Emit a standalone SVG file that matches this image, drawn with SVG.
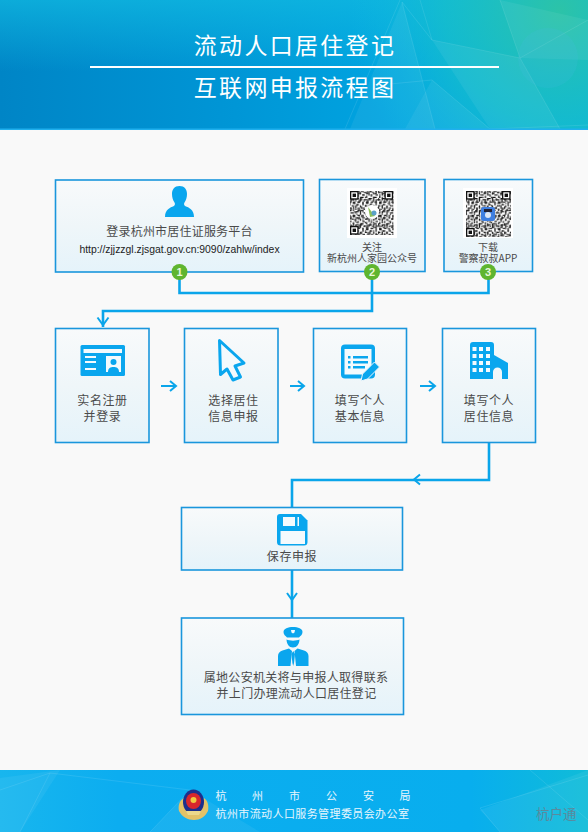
<svg xmlns="http://www.w3.org/2000/svg" width="588" height="832" viewBox="0 0 588 832">
<style>
.box{fill:url(#boxg);stroke:#1a96dc;stroke-width:1.6}
.t{font-family:"Noto Sans CJK SC",sans-serif;font-size:12px;fill:#4a4a4a;text-anchor:middle;letter-spacing:.6px}
.q{font-family:"Noto Sans CJK SC",sans-serif;font-size:10px;fill:#4a4a4a;text-anchor:middle}
.h{font-family:"Noto Sans CJK SC",sans-serif;font-size:23px;fill:#fff;text-anchor:middle;letter-spacing:2.3px}
.f{font-family:"Noto Sans CJK SC",sans-serif;font-size:11px;fill:#e8f6fd;letter-spacing:.4px}
.c{fill:none;stroke:#0aa5ea;stroke-width:2.6}
.a{fill:none;stroke:#0aa5ea;stroke-width:2}
.ic{fill:#0aa6ee}
.w{fill:#f4fafd}
.n{font-family:"Liberation Sans",sans-serif;font-size:11px;font-weight:bold;fill:#e9f7dc;text-anchor:middle}
.p{fill:#fff;opacity:.06}
.l{fill:none;stroke:#fff;stroke-opacity:.14;stroke-width:.7}
</style>
<defs>
<linearGradient id="boxg" x1="0" y1="0" x2="0" y2="1"><stop offset="0" stop-color="#f8fafb"/><stop offset=".5" stop-color="#eff6f9"/><stop offset="1" stop-color="#e5f3fa"/></linearGradient>
<linearGradient id="hb" x1="0" y1="0" x2="1" y2="0"><stop offset="0" stop-color="#0085c6"/><stop offset=".4" stop-color="#0096d6"/><stop offset=".7" stop-color="#00a6e2"/><stop offset="1" stop-color="#0aaedf"/></linearGradient>
<linearGradient id="ht" x1="0" y1="0" x2="0" y2="1"><stop offset="0" stop-color="#10b8e0" stop-opacity=".75"/><stop offset=".55" stop-color="#10b8e0" stop-opacity="0"/></linearGradient>
<radialGradient id="hr" gradientUnits="userSpaceOnUse" cx="560" cy="10" r="210"><stop offset="0" stop-color="#2cc3a8"/><stop offset=".55" stop-color="#18c0c8" stop-opacity=".7"/><stop offset="1" stop-color="#10b8e0" stop-opacity="0"/></radialGradient>
<linearGradient id="fb" x1="0" y1="0" x2="1" y2="0"><stop offset="0" stop-color="#18b6ee"/><stop offset=".2" stop-color="#0cadf0"/><stop offset=".8" stop-color="#08aeee"/><stop offset="1" stop-color="#10bcd8"/></linearGradient>
<pattern id="qa" width="13.2" height="13.2" patternUnits="userSpaceOnUse"><path fill="#111" d="M0 0h2.4v1.2H0zM3.6 0h1.2v3.6H3.6zM7.2 1.2h3.6v1.2H7.2zM12 0h1.2v2.4H12zM1.2 3.6h2.4v1.2H1.2zM6 3.6h1.2v3.6H6zM9.6 3.6h2.4v2.4H9.6zM0 6h2.4v1.2H0zM3.6 7.2h1.2v2.4H3.6zM8.4 7.2h2.4v1.2H8.4zM12 7.2h1.2v3.6H12zM1.2 9.6h1.2v2.4H1.2zM6 9.6h2.4v1.2H6zM9.6 10.8h1.2v2.4H9.6zM3.6 12h3.6v1.2H3.6z"/></pattern>
<pattern id="qb" width="8.4" height="8.4" patternUnits="userSpaceOnUse"><path fill="#222" d="M1.2 1.2h1.2v1.2H1.2zM4.8 0h2.4v1.2H4.8zM0 4.8h1.2v2.4H0zM3.6 3.6h1.2v1.2H3.6zM6 6h1.2v2.4H6zM2.4 7.2h1.2v1.2H2.4z"/></pattern>
<g id="finder"><rect width="8.6" height="8.6" fill="#111"/><rect x="1.3" y="1.3" width="6" height="6" fill="#fff"/><rect x="2.6" y="2.6" width="3.4" height="3.4" fill="#111"/></g>
</defs>
<rect width="588" height="832" fill="#f9f9f9"/>
<g id="header">
<rect width="588" height="129.500" fill="url(#hb)"/>
<rect width="588" height="129.500" fill="url(#ht)"/>
<rect width="588" height="129.500" fill="url(#hr)"/>
<path class="p" d="M402 2L435 129H350z"/><path class="p" d="M432 40L520 58L560 129H490z"/><path class="p" d="M432 80L490 129H405z"/><path class="p" d="M500 0L588 20V60L520 58z"/>
<path class="l" d="M400 0L345 129M402 2L435 129M402 2L432 40L520 58L588 20M432 80L490 129L588 125M432 80L390 84M520 58L560 129M432 40L420 0M500 0L520 58"/>
<circle cx="548" cy="58" r="30" fill="#4ab8e8" opacity=".16"/>
<rect y="128.500" width="588" height="1.500" fill="#20b0ee"/>
<text class="h" x="295" y="53.500">流动人口居住登记</text>
<rect x="90" y="66" width="409" height="2" fill="#fff"/>
<text class="h" x="295" y="96">互联网申报流程图</text>
</g>
<g id="connectors">
<path class="c" d="M179.500 272V293H488.500V272M372 272V311H103V327"/>
<path class="a" d="M97.500 317.500L103 325L108.500 317.500"/>
<path class="a" d="M161 386H175M170 381L176 386L170 391"/>
<path class="a" d="M290 386H303M298 381L304 386L298 391"/>
<path class="a" d="M420 386H434M429 381L435 386L429 391"/>
<path class="c" d="M489 443V480H292V507"/>
<path class="a" d="M420 474.500L414 479.500L420 484.500"/>
<path class="c" d="M292 570V618"/>
<path class="a" d="M287 593L292 600L297 593"/>
</g>
<g id="node-platform">
<rect class="box" x="55.500" y="180" width="248" height="92"/>
<path class="ic" d="M179.500 186c5 0 7.500 3.500 7.500 8 0 3.500-1 6.500-2.500 8.500-.8 1.200-.6 3 1 3.700 3 1.300 8.500 2.800 8.500 10.800h-29c0-8 5.500-9.500 8.500-10.800 1.600-.7 1.800-2.500 1-3.700-1.500-2-2.500-5-2.500-8.500 0-4.500 2.500-8 7.500-8z"/>
<text class="t" x="179.500" y="236" style="letter-spacing:.2px">登录杭州市居住证服务平台</text>
<text x="179.500" y="253" text-anchor="middle" font-family="Liberation Sans, sans-serif" font-size="10.400" fill="#222">http://zjjzzgl.zjsgat.gov.cn:9090/zahlw/index</text>
<circle cx="179.500" cy="272" r="8" fill="#5fb52f"/><text class="n" x="179.500" y="276">1</text>
</g>
<g id="node-wechat">
<rect class="box" x="319.500" y="179.500" width="105.500" height="92"/>
<rect x="347" y="188" width="50" height="50" fill="#fff"/>
<rect x="350" y="191" width="43.500" height="44" fill="url(#qa)"/><rect x="350" y="191" width="43.500" height="44" fill="url(#qb)"/>
<use href="#finder" x="350" y="191"/><use href="#finder" x="384.500" y="191"/><use href="#finder" x="350" y="226"/>
<circle cx="372" cy="212" r="7" fill="#fff"/><path d="M368 207L375 216L370 217z" fill="#8cbf5a"/><circle cx="374" cy="213" r="2.500" fill="#5aa0c8"/>
<text class="q" x="372" y="251">关注</text>
<text class="q" x="372" y="262">新杭州人家园公众号</text>
<circle cx="372" cy="272" r="8" fill="#5fb52f"/><text class="n" x="372" y="276">2</text>
</g>
<g id="node-app">
<rect class="box" x="444" y="179.500" width="88.500" height="92"/>
<rect x="463" y="188" width="50" height="50" fill="#fff"/>
<rect x="466" y="191" width="45" height="46" fill="url(#qa)"/><rect x="466" y="191" width="45" height="46" fill="url(#qb)"/>
<use href="#finder" x="466" y="191"/><use href="#finder" x="502" y="191"/><use href="#finder" x="466" y="228"/>
<rect x="481" y="207" width="14" height="14" rx="2.500" fill="#3f7fe0"/><rect x="484" y="209" width="8" height="3" fill="#223"/><circle cx="488" cy="215" r="3" fill="#dfe8f5"/>
<text class="q" x="488" y="251">下载</text>
<text class="q" x="488" y="262">警察叔叔APP</text>
<circle cx="488" cy="272" r="8" fill="#5fb52f"/><text class="n" x="488" y="276">3</text>
</g>
<g id="node-register">
<rect class="box" x="55.500" y="328.500" width="93.500" height="114"/>
<rect class="ic" x="80.500" y="345" width="44.500" height="31" rx="1.500"/>
<rect class="w" x="83.500" y="349" width="38.500" height="4"/>
<path class="w" d="M85 356h11v2H85zM85 361h11v2H85zM85 368h11v2H85z"/>
<rect class="w" x="106" y="356" width="15" height="16"/>
<circle class="ic" cx="113.500" cy="362" r="3"/><path class="ic" d="M108 372c0-4 2.500-5 5.500-5s5.500 1 5.500 5z"/>
<text class="t" x="102.500" y="405">实名注册</text>
<text class="t" x="102.500" y="421">并登录</text>
</g>
<g id="node-select">
<rect class="box" x="184.500" y="328.500" width="93.500" height="114"/>
<path d="M219.500 340.500L244 363L235 366L240.500 377L233 380L227 369L220.500 374.500z" fill="#f4fafd" stroke="#0aa6ee" stroke-width="3" stroke-linejoin="round"/>
<text class="t" x="233.500" y="405">选择居住</text>
<text class="t" x="233.500" y="421">信息申报</text>
</g>
<g id="node-basic">
<rect class="box" x="313.500" y="328.500" width="93" height="114"/>
<rect class="ic" x="341" y="344.500" width="34" height="34" rx="4"/>
<rect class="w" x="344.500" y="349" width="27" height="25.500"/>
<path class="ic" d="M348 356h2.500v2.500H348zM353 356h15v2.500h-15zM348 361h2.500v2.500H348zM353 361h15v2.500h-15zM348 366h2.500v2.500H348zM353 366h12v2.500h-12z"/>
<path d="M361 381l1.500-7 12-12 5 5-12 12z" fill="#0aa6ee" stroke="#f0f7fb" stroke-width="1"/>
<text class="t" x="360" y="405">填写个人</text>
<text class="t" x="360" y="421">基本信息</text>
</g>
<g id="node-residence">
<rect class="box" x="442.500" y="328.500" width="93" height="114"/>
<path class="ic" d="M470 345c0-2 1-3 3-3h18c2 0 3 1 3 3v10l14 8v16h-6v-7a4.500 4.500 0 0 0-9 0v7H470z"/>
<path class="w" d="M472.500 347h4v4h-4zM479 347h4v4h-4zM486 347h4v4h-4zM472.500 354h4v4h-4zM479 354h4v4h-4zM486 354h4v4h-4zM472.500 361h4v4h-4zM479 361h4v4h-4zM486 361h4v4h-4zM472.500 368h4v4h-4zM479 368h4v4h-4zM486 368h4v4h-4z"/>
<text class="t" x="489" y="405">填写个人</text>
<text class="t" x="489" y="421">居住信息</text>
</g>
<g id="node-save">
<rect class="box" x="181.500" y="507.500" width="221" height="62.500"/>
<path class="ic" d="M280 514h21l6.500 6.500V542a3.500 3.500 0 0 1-3.500 3.500H280.500a3.500 3.500 0 0 1-3.500-3.500V517a3 3 0 0 1 3-3z"/>
<rect class="w" x="283" y="517" width="16" height="9"/><rect class="ic" x="295" y="517" width="2.500" height="9"/>
<rect class="w" x="280.500" y="531" width="24.500" height="13"/>
<text class="t" x="292" y="561">保存申报</text>
</g>
<g id="node-police">
<rect class="box" x="181.500" y="618" width="222" height="96.500"/>
<path class="ic" d="M293 627c5 0 9.500 1.500 9.500 5 0 2.500-2 4-3.500 5.500l-12 0c-1.500-1.500-3.500-3-3.500-5.500 0-3.500 4.500-5 9.500-5z"/>
<path class="w" d="M291 630h4l-.5 2.500-1.500 1-1.500-1z"/>
<path class="ic" d="M286.500 639.500c3 1.500 10 1.500 13 0-.2 4.500-2.500 8-6.500 8s-6.300-3.500-6.500-8z"/>
<path class="ic" d="M278 666v-10c0-3 2-4.500 4.500-5.500l6.500-2 3 2.500-1.500 15zM308.500 666v-10c0-3-2-4.500-4.500-5.500l-6.500-2-3 2.500 1.500 15z"/>
<path class="ic" d="M293.200 651l1.800 3-1 9-.8 3-.8-3-1-9z"/>
<text class="t" x="296" y="682" style="letter-spacing:.3px">属地公安机关将与申报人取得联系</text>
<text class="t" x="296.500" y="697.500" style="letter-spacing:.3px">并上门办理流动人口居住登记</text>
</g>
<g id="footer">
<rect y="770" width="588" height="62" fill="url(#fb)"/>
<path class="p" d="M0 778L60 770L20 832H0z"/><path class="p" d="M150 832L190 790L260 832z"/><path class="p" d="M480 810L588 770V832H500z"/>
<path class="l" d="M0 790L50 773L20 832M50 773L190 790L150 832M480 808L588 775M480 808L500 832M530 770L588 820"/>
<path d="M184 798c-5 3-6 8-5 13 3 6 9 9 15 9s11-3 14-9c1-5 0-10-4-13l-6 14h-9z" fill="#e3c268"/>
<ellipse cx="193.500" cy="802" rx="10.500" ry="12.500" fill="#1c2f8c"/><ellipse cx="193.500" cy="801" rx="7.500" ry="8" fill="#d8262c"/><circle cx="193.500" cy="800" r="3" fill="#f0c840"/>
<path d="M186 811h15l-2 4h-11z" fill="#ecd88c"/>
<g class="f">
<text x="215.500" y="800">杭</text><text x="252" y="800">州</text><text x="289" y="800">市</text><text x="326" y="800">公</text><text x="363" y="800">安</text><text x="399.500" y="800">局</text>
<text x="215.500" y="818">杭州市流动人口服务管理委员会办公室</text>
</g>
<text x="536" y="819" font-family="Noto Sans CJK SC, sans-serif" font-size="13.500" fill="#5a8a9e">杭户通</text>
</g>
</svg>
